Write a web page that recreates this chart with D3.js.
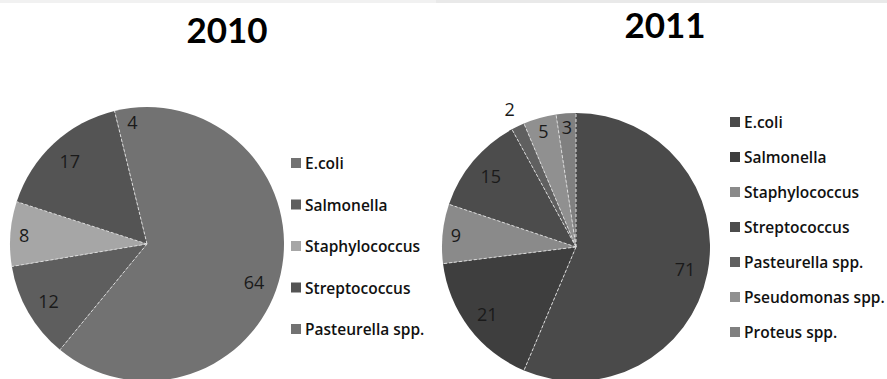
<!DOCTYPE html>
<html>
<head>
<meta charset="utf-8">
<script src="https://cdn.jsdelivr.net/npm/d3@7"></script>
<style>
  html, body { margin: 0; padding: 0; background: #fff; }
  svg { display: block; }
</style>
</head>
<body>
<svg id="chart" width="887" height="379"></svg>
<script>
// Isolates by year
const categories2010 = ["E.coli", "Salmonella", "Staphylococcus", "Streptococcus", "Pasteurella spp."];
const values2010 = [64, 12, 8, 17, 4];
const colors2010 = ["#727272", "#5e5e5e", "#a6a6a6", "#545454", "#727272"];

const categories2011 = ["E.coli", "Salmonella", "Staphylococcus", "Streptococcus", "Pasteurella spp.", "Pseudomonas spp.", "Proteus spp."];
const values2011 = [71, 21, 9, 15, 2, 5, 3];
const colors2011 = ["#4a4a4a", "#3e3e3e", "#8a8a8a", "#4c4c4c", "#606060", "#909090", "#808080"];

const titles = ["2010", "2011"];

const svg = d3.select("#chart");
const W = 887, H = 379;
const TITLE_FONT = "Lato, 'Open Sans', sans-serif";
const TEXT_FONT = "'Open Sans', Lato, sans-serif";

// thin grey strip along the top edge
svg.append("rect").attr("x", 0).attr("y", 0).attr("width", 436).attr("height", 3).attr("fill", "#f1f1f1");
svg.append("rect").attr("x", 436).attr("y", 0).attr("width", W - 436).attr("height", 3).attr("fill", "#e9e9e9");

function drawPie(opts) {
  const { cats, vals, cols, title, cx, cy, r, titleX, titleY, legX, legY, legStep } = opts;
  const g = svg.append("g");
  const total = d3.sum(vals);

  const pie = d3.pie().sort(null).value(d => d.v);
  const arcs = pie(vals.map((v, i) => ({ v, c: cols[i], name: cats[i] })));
  const arc = d3.arc().innerRadius(0).outerRadius(r);

  const pg = g.append("g").attr("transform", `translate(${cx},${cy})`);
  pg.selectAll("path.slice").data(arcs).join("path")
    .attr("class", "slice")
    .attr("d", arc)
    .attr("fill", d => d.data.c);

  // radial separators between slices of differing shade
  const seps = arcs.filter((d, i) => {
    const prev = arcs[(i - 1 + arcs.length) % arcs.length];
    return prev.data.c !== d.data.c;
  });
  pg.selectAll("line.sep").data(seps).join("line")
    .attr("class", "sep")
    .attr("x1", 0).attr("y1", 0)
    .attr("x2", d => r * Math.sin(d.startAngle))
    .attr("y2", d => -r * Math.cos(d.startAngle))
    .attr("stroke", "#dcdcdc")
    .attr("stroke-width", 1)
    .attr("stroke-dasharray", "3,2");

  // value labels: inside near the rim, outside for very thin slices
  pg.selectAll("text.val").data(arcs).join("text")
    .attr("class", "val")
    .each(function (d) {
      const a = (d.startAngle + d.endAngle) / 2;
      const frac = d.data.v / total;
      const k = frac < 0.02 ? 1.14 : (frac < 0.08 ? 0.9 : 0.83);
      d3.select(this)
        .attr("x", k * r * Math.sin(a))
        .attr("y", -k * r * Math.cos(a));
    })
    .attr("text-anchor", "middle")
    .attr("dominant-baseline", "central")
    .attr("font-family", TEXT_FONT)
    .attr("font-size", 18)
    .attr("fill", "#1a1a1a")
    .text(d => d.data.v);

  // title
  g.append("text")
    .attr("x", titleX).attr("y", titleY)
    .attr("text-anchor", "middle")
    .attr("font-family", TITLE_FONT)
    .attr("font-weight", "bold")
    .attr("font-size", 35)
    .attr("fill", "#000")
    .text(title);

  // legend
  const lg = g.append("g").attr("transform", `translate(${legX},${legY})`);
  const items = lg.selectAll("g").data(cats).join("g")
    .attr("transform", (d, i) => `translate(0,${i * legStep})`);
  items.append("rect")
    .attr("x", 0).attr("y", -5).attr("width", 10).attr("height", 10)
    .attr("fill", (d, i) => cols[i]);
  items.append("text")
    .attr("x", 14).attr("y", 0)
    .attr("dominant-baseline", "central")
    .attr("font-family", TEXT_FONT)
    .attr("font-weight", 600)
    .attr("font-size", 15.5)
    .attr("fill", "#111")
    .text(d => d);
}

drawPie({
  cats: categories2010, vals: values2010, cols: colors2010, title: titles[0],
  cx: 147, cy: 244, r: 137,
  titleX: 227, titleY: 43,
  legX: 291, legY: 163, legStep: 41.5
});

drawPie({
  cats: categories2011, vals: values2011, cols: colors2011, title: titles[1],
  cx: 576, cy: 247, r: 134,
  titleX: 665, titleY: 38,
  legX: 730, legY: 122, legStep: 35
});
</script>
</body>
</html>
